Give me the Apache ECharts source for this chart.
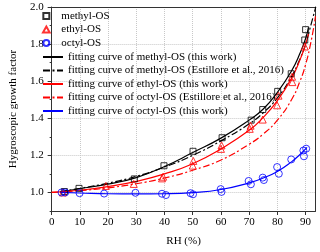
<!DOCTYPE html>
<html><head><meta charset="utf-8">
<script src="https://cdn.jsdelivr.net/npm/echarts@6/dist/echarts.min.js"></script>
<style>html,body{margin:0;padding:0;background:#fff}#c{width:320px;height:252px}</style>
</head><body><div id="c"></div>
<script>
// ---- data ----
const methylOS = [[4.5,1.005],[9.7,1.022],[29.3,1.073],[39.8,1.144],[50.1,1.222],[60.4,1.295],[70.7,1.39],[74.8,1.447],[80.1,1.545],[84.9,1.64],[89.7,1.822],[90,1.878]];
const ethylOS = [[4,1.0],[19.2,1.035],[29.1,1.046],[39.1,1.076],[39.5,1.085],[50,1.145],[50.2,1.17],[60,1.235],[60.2,1.254],[70.2,1.343],[70.5,1.36],[74.8,1.393],[79.9,1.47],[80.4,1.522],[85.3,1.595],[85.2,1.624],[89.7,1.787]];
const octylOS = [[3.5,1.0],[4.8,1.0],[9.9,0.996],[18.6,0.994],[29.7,0.998],[39.1,0.993],[40.5,0.986],[49.2,0.996],[50.1,0.99],[59.9,1.018],[60.2,1.003],[69.8,1.062],[70.6,1.044],[74.8,1.08],[75.2,1.067],[79.9,1.137],[80.5,1.101],[84.9,1.178],[89.2,1.226],[89.4,1.195],[90.2,1.236]];

const methylFitRH = [3,10,20,30,40,50,60,70,75,80,85,88,90,91];
const methylFitGF = [1.003,1.02,1.045,1.08,1.14,1.215,1.293,1.39,1.45,1.54,1.655,1.75,1.83,1.89];
const methylEstRH = [3,10,20,30,40,50,60,70,75,80,85,88,90,92,93.6];
const methylEstGF = [1.003,1.022,1.05,1.087,1.137,1.2,1.278,1.37,1.43,1.51,1.625,1.72,1.8,1.91,2.0];
const ethylFitRH = [0,10,20,30,40,50,60,70,75,80,85,88,90,91];
const ethylFitGF = [1.0,1.012,1.032,1.06,1.1,1.155,1.235,1.335,1.405,1.495,1.615,1.715,1.8,1.855];
const octylEstRH = [0,10,20,30,40,50,60,70,75,80,85,88,90,92,93.5];
const octylEstGF = [1.0,1.01,1.025,1.047,1.078,1.12,1.175,1.26,1.315,1.39,1.5,1.6,1.69,1.82,1.95];
const octylFitRH = [3,10,20,30,40,50,60,70,75,80,85,88,90,90.5];
const octylFitGF = [1.0,0.997,0.993,0.992,0.993,0.999,1.016,1.052,1.078,1.113,1.165,1.205,1.235,1.243];

const yTickValues = [1.0,1.2,1.4,1.6,1.8,2.0];
const names = ['methyl-OS','ethyl-OS','octyl-OS',
  'fitting curve of methyl-OS (this work)',
  'fitting curve of methyl-OS (Estillore et al., 2016)',
  'fitting curve of ethyl-OS (this work)',
  'fitting curve of octyl-OS (Estillore et al., 2016)',
  'fitting curve of octyl-OS (this work)'];

const zip = (a,b) => a.map((v,i)=>[v,b[i]]);
const FONT = 'Liberation Serif';
const DASHDOT = [7,2.5,2,2.5];
const SQ = 'path://M0,0L10,0L10,10L0,10Z';
const TRI = 'path://M5,0L10,9L0,9Z';

const chart = echarts.init(document.getElementById('c'), null, {renderer:'canvas'});
const axisTxt = {fontFamily:FONT, fontSize:11, color:'#000'};
const grid = {left:38, right:4.5, top:7, bottom:40};
chart.setOption({
  animation:false,
  grid: grid,
  xAxis: [{
    type:'value', min:0, max:93.5, interval:10,
    name:'RH (%)', nameLocation:'middle', nameGap:25, nameTextStyle:axisTxt,
    axisLine:{lineStyle:{color:'#333', width:1}},
    axisTick:{inside:false, length:4, lineStyle:{color:'#333'}},
    axisLabel:Object.assign({margin:6, showMaxLabel:false}, axisTxt),
    splitLine:{show:true, lineStyle:{color:'#c8c8c8', type:'dotted', width:1}}
  },{
    type:'value', position:'top', min:0, max:93.5,
    axisLine:{show:true, onZero:false, lineStyle:{color:'#333', width:1}},
    axisTick:{show:false}, axisLabel:{show:false}, splitLine:{show:false}
  }],
  yAxis: [{
    type:'value', min:0.9, max:2.0, interval:0.1,
    name:'Hygroscopic growth factor', nameLocation:'middle', nameGap:26, nameTextStyle:axisTxt,
    axisLine:{show:true, lineStyle:{color:'#333', width:1}},
    axisTick:{show:true, length:4, customValues:yTickValues, lineStyle:{color:'#333'}},
    axisLabel:Object.assign({margin:8, customValues:yTickValues, formatter:v=>v.toFixed(1)}, axisTxt),
    splitLine:{show:true, lineStyle:{color:'#c8c8c8', type:'dotted', width:1}}
  },{
    type:'value', position:'left', min:0.9, max:2.0, interval:0.1,
    axisLine:{show:false}, axisTick:{show:true, length:2, lineStyle:{color:'#333'}},
    axisLabel:{show:false}, splitLine:{show:false}
  },{
    type:'value', position:'right', min:0.9, max:2.0,
    axisLine:{show:true, onZero:false, lineStyle:{color:'#333', width:1}},
    axisTick:{show:false}, axisLabel:{show:false}, splitLine:{show:false}
  }],
  legend: [{
    orient:'vertical', left:42, top:10.5, padding:0, itemGap:2.5,
    itemWidth:20, itemHeight:6, symbolKeepAspect:true,
    textStyle:{fontFamily:FONT, fontSize:11, lineHeight:11, color:'#000'},
    data:[{name:names[0], icon:SQ},{name:names[1], icon:TRI},{name:names[2], icon:'circle'}]
  },{
    orient:'vertical', left:42, top:51.5, padding:0, itemGap:2.5,
    itemWidth:20, itemHeight:8,
    itemStyle:{opacity:0},
    textStyle:{fontFamily:FONT, fontSize:11, lineHeight:11, color:'#000'},
    data:names.slice(3)
  }],
  series: [
    {name:names[3], type:'line', data:zip(methylFitRH,methylFitGF), smooth:true, symbol:'none', z:3,
     lineStyle:{color:'#000', width:1.2}, itemStyle:{color:'#000'}},
    {name:names[4], type:'line', data:zip(methylEstRH,methylEstGF), smooth:true, symbol:'none', z:3,
     lineStyle:{color:'#000', width:1.2, type:DASHDOT}, itemStyle:{color:'#000'}},
    {name:names[5], type:'line', data:zip(ethylFitRH,ethylFitGF), smooth:true, symbol:'none', z:3,
     lineStyle:{color:'#ff0000', width:1.2}, itemStyle:{color:'#ff0000'}},
    {name:names[6], type:'line', data:zip(octylEstRH,octylEstGF), smooth:true, symbol:'none', z:3,
     lineStyle:{color:'#ff0000', width:1.2, type:DASHDOT}, itemStyle:{color:'#ff0000'}},
    {name:names[7], type:'line', data:zip(octylFitRH,octylFitGF), smooth:true, symbol:'none', z:3,
     lineStyle:{color:'#0000ff', width:1.2}, itemStyle:{color:'#0000ff'}},
    {name:names[0], type:'scatter', data:methylOS, symbol:SQ, symbolSize:6, z:4,
     itemStyle:{color:'rgba(255,255,255,0)', borderColor:'#000', borderWidth:1}},
    {name:names[1], type:'scatter', data:ethylOS, symbol:TRI, symbolSize:7, z:4,
     itemStyle:{color:'rgba(255,255,255,0)', borderColor:'#ff0000', borderWidth:1}},
    {name:names[2], type:'scatter', data:octylOS, symbol:'circle', symbolSize:7, z:4,
     itemStyle:{color:'rgba(255,255,255,0)', borderColor:'#0000ff', borderWidth:1}}
  ]
});
</script></body></html>
